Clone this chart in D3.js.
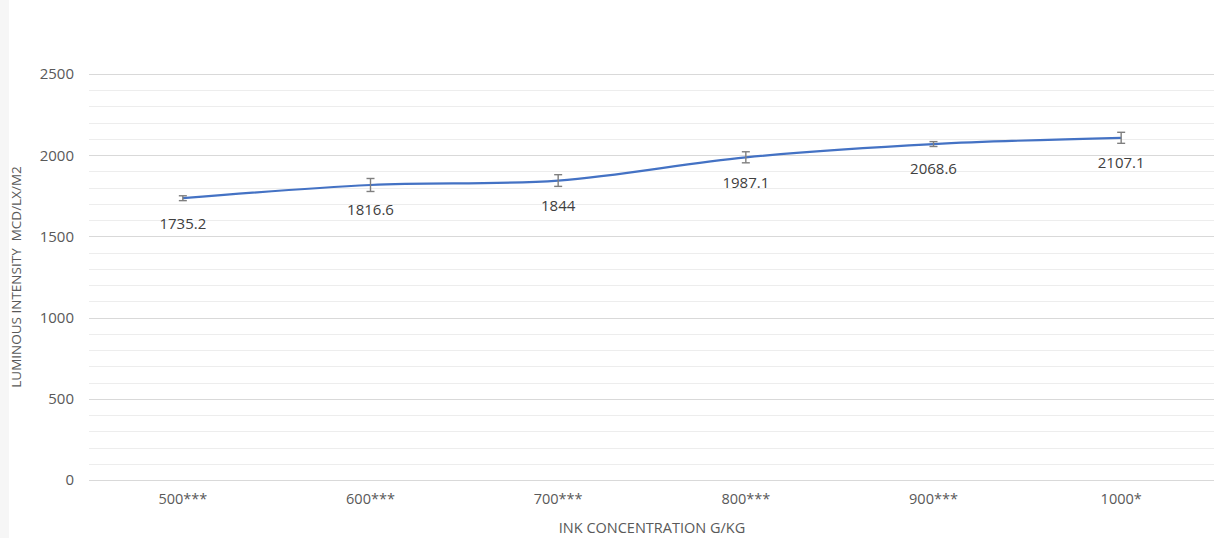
<!DOCTYPE html>
<html>
<head>
<meta charset="utf-8">
<script src="https://cdn.jsdelivr.net/npm/d3@7"></script>
<style>
  html, body { margin: 0; padding: 0; background: #ffffff; overflow: hidden; }
  svg { display: block; font-family: "Open Sans", "Noto Sans", sans-serif; }
</style>
</head>
<body>
<svg id="chart" width="1214" height="538"></svg>
<script>
// Luminous intensity by ink concentration
const categories = ["500***", "600***", "700***", "800***", "900***", "1000*"];
const intensity = [1735.2, 1816.6, 1844, 1987.1, 2068.6, 2107.1];
const errors = [15, 40, 36, 34, 15, 34];
const yTicks = [0, 500, 1000, 1500, 2000, 2500];
const yMinorTicks = d3.range(0, 2501, 100);

const svg = d3.select("#chart");
const W = 1214, H = 538;
const plot = { left: 89, right: 1215, top: 74, bottom: 480 };

// faint strip along the left edge
svg.append("rect").attr("x", 0).attr("y", 0).attr("width", 9).attr("height", H).attr("fill", "#f6f6f6");

const x = d3.scaleBand().domain(categories).range([plot.left, plot.right]);
const y = d3.scaleLinear().domain([0, 2500]).range([plot.bottom, plot.top]);

// minor gridlines
svg.append("g").selectAll("line").data(yMinorTicks.filter(v => v % 500 !== 0)).join("line")
  .attr("x1", plot.left).attr("x2", plot.right)
  .attr("y1", d => Math.round(y(d)) + 0.5).attr("y2", d => Math.round(y(d)) + 0.5)
  .attr("stroke", "#ededed").attr("stroke-width", 1);

// major gridlines
svg.append("g").selectAll("line").data(yTicks).join("line")
  .attr("x1", plot.left).attr("x2", plot.right)
  .attr("y1", d => Math.round(y(d)) + 0.5).attr("y2", d => Math.round(y(d)) + 0.5)
  .attr("stroke", "#d9d9d9").attr("stroke-width", 1.2);

// y axis labels
const yAxis = d3.axisLeft(y).tickValues(yTicks).tickFormat(d3.format("d")).tickSize(0).tickPadding(0);
const gy = svg.append("g").attr("transform", `translate(${plot.left - 15},0)`).call(yAxis);
gy.select(".domain").remove();
gy.selectAll("text").attr("font-size", 15).attr("fill", "#595959")
  .attr("font-family", "'Open Sans', sans-serif");

// x axis labels
const xAxis = d3.axisBottom(x).tickSize(0).tickPadding(0);
const gx = svg.append("g").attr("transform", `translate(0,${plot.bottom + 14})`).call(xAxis);
gx.select(".domain").remove();
gx.selectAll("text").attr("font-size", 14.5).attr("fill", "#595959")
  .attr("font-family", "'Open Sans', sans-serif");

// axis titles
svg.append("text").attr("x", (plot.left + plot.right) / 2).attr("y", 533)
  .attr("text-anchor", "middle").attr("font-size", 14.5).attr("fill", "#595959")
  .text("INK CONCENTRATION G/KG");
svg.append("text")
  .attr("transform", `translate(21,${(plot.top + plot.bottom) / 2}) rotate(-90)`)
  .attr("text-anchor", "middle").attr("font-size", 13.5).attr("fill", "#595959")
  .style("white-space", "pre")
  .text("LUMINOUS INTENSITY  MCD/LX/M2");

const cx = c => x(c) + x.bandwidth() / 2;
const pts = categories.map((c, i) => ({ c, v: intensity[i], e: errors[i] }));

// smoothed series line
const line = d3.line().x(d => cx(d.c)).y(d => y(d.v)).curve(d3.curveCatmullRom.alpha(0.5));
svg.append("path").datum(pts).attr("d", line)
  .attr("fill", "none").attr("stroke", "#4472c4").attr("stroke-width", 2.2);

// error bars
const eb = svg.append("g").attr("stroke", "#7f7f7f").attr("stroke-width", 1.4).attr("fill", "none");
pts.forEach(d => {
  const x0 = cx(d.c);
  eb.append("line").attr("x1", x0).attr("x2", x0).attr("y1", y(d.v - d.e)).attr("y2", y(d.v + d.e));
  eb.append("line").attr("x1", x0 - 4).attr("x2", x0 + 4).attr("y1", y(d.v - d.e)).attr("y2", y(d.v - d.e));
  eb.append("line").attr("x1", x0 - 4).attr("x2", x0 + 4).attr("y1", y(d.v + d.e)).attr("y2", y(d.v + d.e));
});

// data labels
svg.append("g").selectAll("text").data(pts).join("text")
  .attr("x", d => cx(d.c)).attr("y", d => y(d.v) + 25)
  .attr("dy", "0.36em")
  .attr("text-anchor", "middle").attr("font-size", 15).attr("fill", "#404040")
  .text(d => d3.format("")(d.v));
</script>
</body>
</html>
